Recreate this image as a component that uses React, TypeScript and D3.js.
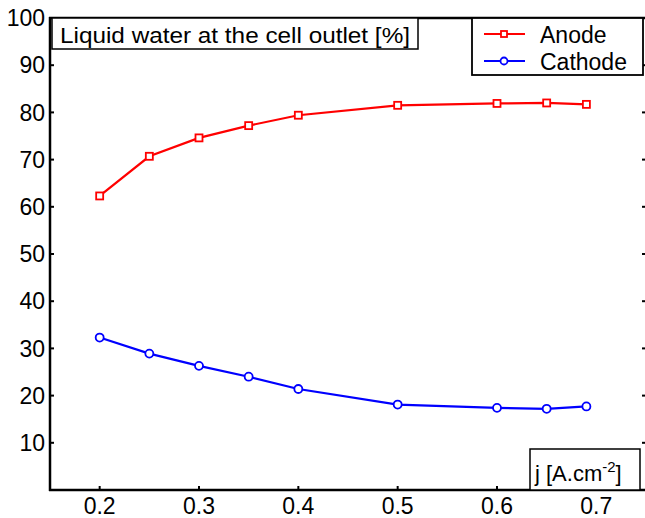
import React from "react";
import * as d3 from "d3";

const xValues = [0.2, 0.25, 0.3, 0.35, 0.4, 0.5, 0.6, 0.65, 0.69];
const anode = [62.3, 70.7, 74.6, 77.2, 79.4, 81.5, 81.9, 82.0, 81.7];
const cathode = [32.3, 28.9, 26.3, 24.0, 21.4, 18.1, 17.4, 17.2, 17.7];
const xTicks = [0.2, 0.3, 0.4, 0.5, 0.6, 0.7];
const yTicks = [10, 20, 30, 40, 50, 60, 70, 80, 90, 100];
const titleText = "Liquid water at the cell outlet [%]";
const seriesNames = ["Anode", "Cathode"];

const W = 645;
const H = 518;
const L = 50, R = 646, T = 18, B = 490;
const FONT = "'Liberation Sans', Arial, Helvetica, sans-serif";
const FS = 23;

export default function App() {
  const x = d3.scaleLinear().domain([0.15, 0.75]).range([L, R]);
  const y = d3.scaleLinear().domain([0, 100]).range([B, T]);
  const line = d3
    .line<[number, number]>()
    .x((d) => x(d[0]))
    .y((d) => y(d[1]));
  const anodePts: [number, number][] = xValues.map((v, i) => [v, anode[i]]);
  const cathPts: [number, number][] = xValues.map((v, i) => [v, cathode[i]]);
  const tl = 4;

  return (
    <svg
      width={W}
      height={H}
      style={{ position: "absolute", left: 0, top: 0, background: "#fff" }}
      fontFamily={FONT}
    >
      <rect x={0} y={0} width={W} height={H} fill="#fff" />
      {xTicks.map((t) => (
        <g key={"xt" + t}>
          <line x1={x(t)} x2={x(t)} y1={B} y2={B - tl} stroke="#000" strokeWidth={2} />
          <line x1={x(t)} x2={x(t)} y1={T} y2={T + tl} stroke="#000" strokeWidth={2} />
        </g>
      ))}
      {yTicks.map((t) => (
        <g key={"yt" + t}>
          <line x1={L} x2={L + tl} y1={y(t)} y2={y(t)} stroke="#000" strokeWidth={2} />
          <line x1={R - tl} x2={R} y1={y(t)} y2={y(t)} stroke="#000" strokeWidth={2} />
        </g>
      ))}
      <path d={line(anodePts) || ""} fill="none" stroke="#ff0000" strokeWidth={2.2} />
      <path d={line(cathPts) || ""} fill="none" stroke="#0000ff" strokeWidth={2.2} />
      {anodePts.map((p, i) => (
        <rect
          key={"a" + i}
          x={x(p[0]) - 3.5}
          y={y(p[1]) - 3.5}
          width={7}
          height={7}
          fill="#fff"
          stroke="#ff0000"
          strokeWidth={1.8}
        />
      ))}
      {cathPts.map((p, i) => (
        <circle
          key={"c" + i}
          cx={x(p[0])}
          cy={y(p[1])}
          r={4}
          fill="#fff"
          stroke="#0000ff"
          strokeWidth={1.8}
        />
      ))}
      <line x1={L} x2={L} y1={T - 1} y2={B + 1} stroke="#000" strokeWidth={2.5} />
      <line x1={L - 1} x2={R + 2} y1={B} y2={B} stroke="#000" strokeWidth={2.5} />
      <line x1={L - 1} x2={R + 2} y1={T} y2={T} stroke="#000" strokeWidth={2.5} />
      <line x1={R + 2} x2={R + 2} y1={T} y2={B} stroke="#000" strokeWidth={2.5} />
      {yTicks.map((t) => (
        <text
          key={"yl" + t}
          x={L - 5}
          y={y(t)}
          dy="0.36em"
          textAnchor="end"
          fontSize={FS}
          fill="#000"
        >
          {t}
        </text>
      ))}
      {xTicks.map((t) => (
        <text
          key={"xl" + t}
          x={x(t)}
          y={514}
          textAnchor="middle"
          fontSize={FS}
          fill="#000"
        >
          {t.toFixed(1)}
        </text>
      ))}
      <rect x={52} y={18} width={366} height={31} fill="#fff" stroke="#000" strokeWidth={1.5} />
      <text x={60} y={43} fontSize={FS - 1} fill="#000" textLength={350} lengthAdjust="spacingAndGlyphs">
        {titleText}
      </text>
      <rect x={472} y={18} width={171} height={57} fill="#fff" stroke="#000" strokeWidth={1.8} />
      <line x1={484} x2={525} y1={34} y2={34} stroke="#ff0000" strokeWidth={2.2} />
      <rect x={501} y={31} width={6} height={6} fill="#fff" stroke="#ff0000" strokeWidth={1.8} />
      <text x={540} y={43} fontSize={FS} fill="#000">
        {seriesNames[0]}
      </text>
      <line x1={484} x2={525} y1={61} y2={61} stroke="#0000ff" strokeWidth={2.2} />
      <circle cx={504} cy={61} r={3.5} fill="#fff" stroke="#0000ff" strokeWidth={1.8} />
      <text x={540} y={70} fontSize={FS} fill="#000">
        {seriesNames[1]}
      </text>
      <rect x={530} y={449} width={110} height={41} fill="#fff" stroke="#000" strokeWidth={1.5} />
      <text x={535} y={481} fontSize={FS - 1} fill="#000">
        j [A.cm
        <tspan dy={-9} fontSize={15}>-2</tspan>
        <tspan dy={9}>]</tspan>
      </text>
    </svg>
  );
}
